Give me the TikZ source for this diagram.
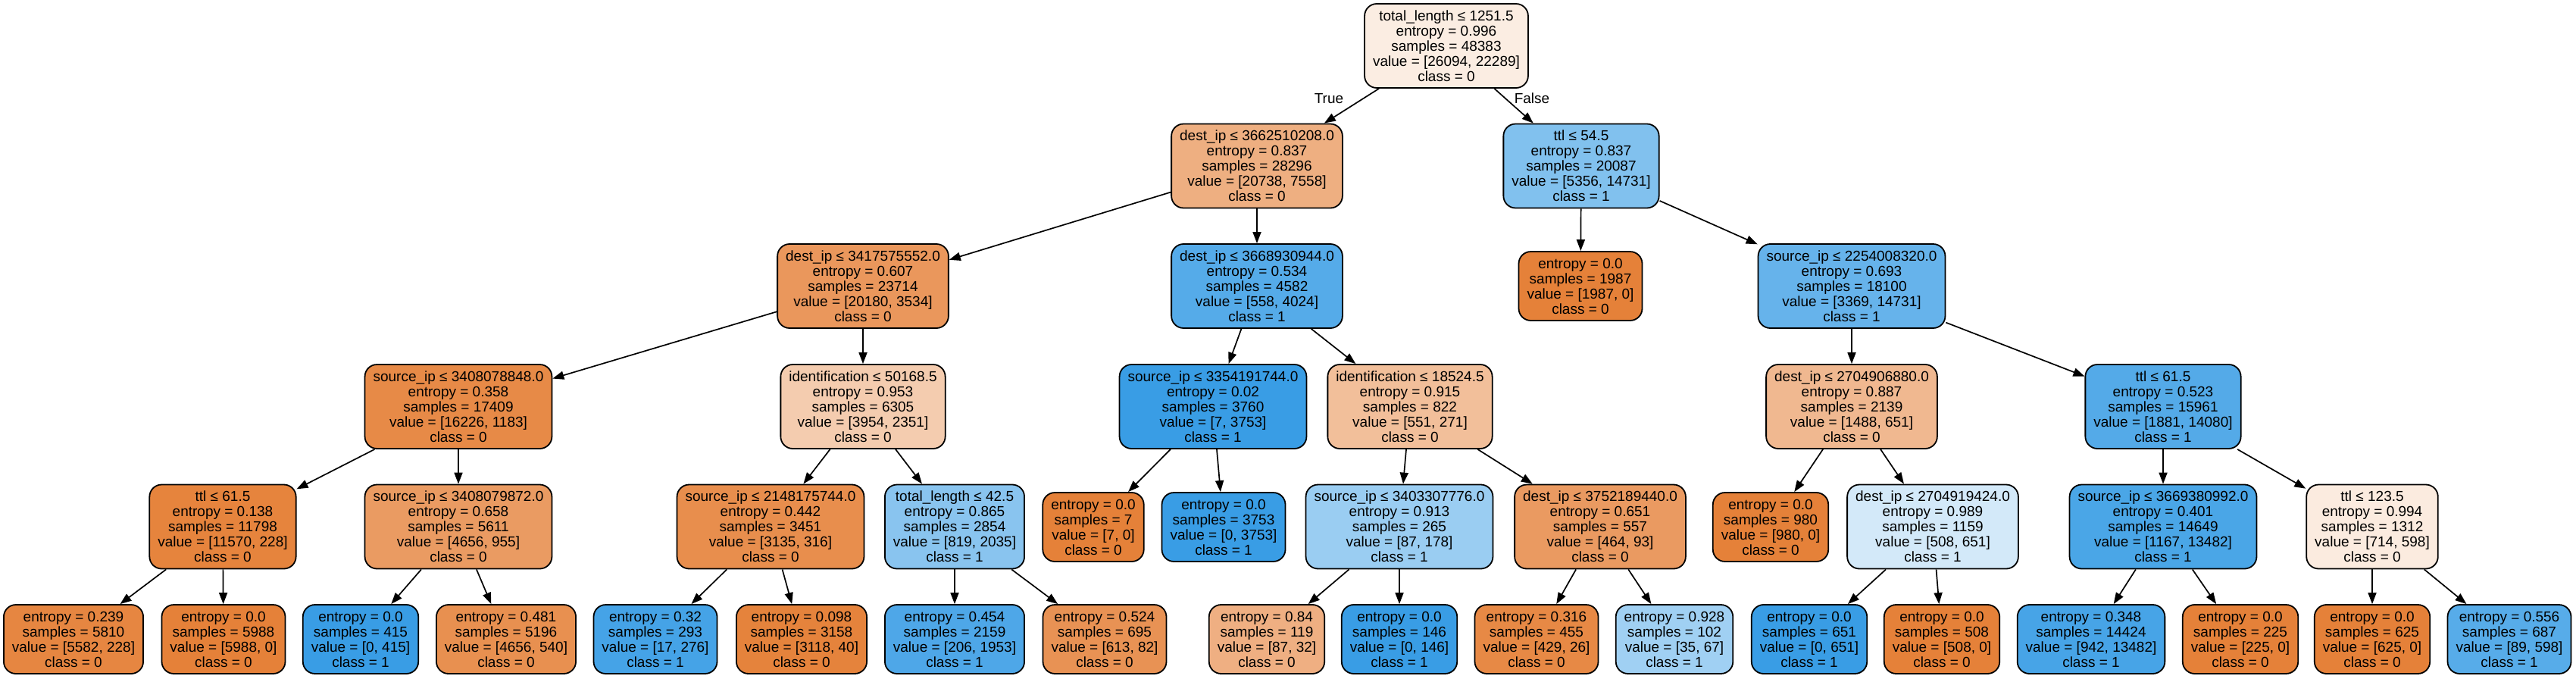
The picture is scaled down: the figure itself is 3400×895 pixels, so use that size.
\documentclass[tikz,border=0pt]{standalone}
\usepackage{fontspec}
\setmainfont{Liberation Sans}
\usetikzlibrary{arrows.meta}
\definecolor{czero}{HTML}{E58139}
\definecolor{cone}{HTML}{399DE5}
\tikzset{
  tn/.style={draw=black, line width=0.9pt, rounded corners=8pt, align=center,
    inner xsep=5.5pt, inner ysep=0pt, font=\fontsize{9.5}{10}\selectfont},
  five/.style={tn, minimum height=55.5pt},
  four/.style={tn, minimum height=45.5pt},
  edgelab/.style={font=\fontsize{9.5}{10}\selectfont, inner sep=0pt},
  link/.style={-{Triangle[length=7.5pt,width=5.5pt]}, line width=0.85pt}
}
\begin{document}
\begin{tikzpicture}[x=0.5pt,y=-0.5pt]
\useasboundingbox (0,0) rectangle (3400,895);
% row 0
\node[five, fill=czero!14.6!white] (n0) at (1909,60.5) {total\_length ≤ 1251.5\\entropy = 0.996\\samples = 48383\\value = [26094, 22289]\\class = 0};
% row 1
\node[five, fill=czero!63.6!white] (n1) at (1659,219) {dest\_ip ≤ 3662510208.0\\entropy = 0.837\\samples = 28296\\value = [20738, 7558]\\class = 0};
\node[five, fill=cone!63.6!white] (n2) at (2087,219) {ttl ≤ 54.5\\entropy = 0.837\\samples = 20087\\value = [5356, 14731]\\class = 1};
% row 2
\node[five, fill=czero!82.5!white] (n3) at (1139,377.5) {dest\_ip ≤ 3417575552.0\\entropy = 0.607\\samples = 23714\\value = [20180, 3534]\\class = 0};
\node[five, fill=cone!86.1!white] (n4) at (1659,377.5) {dest\_ip ≤ 3668930944.0\\entropy = 0.534\\samples = 4582\\value = [558, 4024]\\class = 1};
\node[four, fill=czero] (n5) at (2086,377.5) {entropy = 0.0\\samples = 1987\\value = [1987, 0]\\class = 0};
\node[five, fill=cone!77.1!white] (n6) at (2444,377.5) {source\_ip ≤ 2254008320.0\\entropy = 0.693\\samples = 18100\\value = [3369, 14731]\\class = 1};
% row 3
\node[five, fill=czero!92.7!white] (n7) at (605,536.5) {source\_ip ≤ 3408078848.0\\entropy = 0.358\\samples = 17409\\value = [16226, 1183]\\class = 0};
\node[five, fill=czero!40.5!white] (n8) at (1139,536.5) {identification ≤ 50168.5\\entropy = 0.953\\samples = 6305\\value = [3954, 2351]\\class = 0};
\node[five, fill=cone!99.8!white] (n9) at (1601,536.5) {source\_ip ≤ 3354191744.0\\entropy = 0.02\\samples = 3760\\value = [7, 3753]\\class = 1};
\node[five, fill=czero!50.8!white] (n10) at (1861,536.5) {identification ≤ 18524.5\\entropy = 0.915\\samples = 822\\value = [551, 271]\\class = 0};
\node[five, fill=czero!56.3!white] (n11) at (2444,536.5) {dest\_ip ≤ 2704906880.0\\entropy = 0.887\\samples = 2139\\value = [1488, 651]\\class = 0};
\node[five, fill=cone!86.6!white] (n12) at (2855,536.5) {ttl ≤ 61.5\\entropy = 0.523\\samples = 15961\\value = [1881, 14080]\\class = 1};
% row 4
\node[five, fill=czero!98!white] (n13) at (294,695) {ttl ≤ 61.5\\entropy = 0.138\\samples = 11798\\value = [11570, 228]\\class = 0};
\node[five, fill=czero!79.5!white] (n14) at (605,695) {source\_ip ≤ 3408079872.0\\entropy = 0.658\\samples = 5611\\value = [4656, 955]\\class = 0};
\node[five, fill=czero!89.9!white] (n15) at (1017,695) {source\_ip ≤ 2148175744.0\\entropy = 0.442\\samples = 3451\\value = [3135, 316]\\class = 0};
\node[five, fill=cone!59.8!white] (n16) at (1260,695) {total\_length ≤ 42.5\\entropy = 0.865\\samples = 2854\\value = [819, 2035]\\class = 1};
\node[four, fill=czero] (n17) at (1443,695.5) {entropy = 0.0\\samples = 7\\value = [7, 0]\\class = 0};
\node[four, fill=cone] (n18) at (1615,695.5) {entropy = 0.0\\samples = 3753\\value = [0, 3753]\\class = 1};
\node[five, fill=cone!51.1!white] (n19) at (1847,695) {source\_ip ≤ 3403307776.0\\entropy = 0.913\\samples = 265\\value = [87, 178]\\class = 1};
\node[five, fill=czero!80!white] (n20) at (2112,695) {dest\_ip ≤ 3752189440.0\\entropy = 0.651\\samples = 557\\value = [464, 93]\\class = 0};
\node[four, fill=czero] (n21) at (2337,695.5) {entropy = 0.0\\samples = 980\\value = [980, 0]\\class = 0};
\node[five, fill=cone!22!white] (n22) at (2551,695) {dest\_ip ≤ 2704919424.0\\entropy = 0.989\\samples = 1159\\value = [508, 651]\\class = 1};
\node[five, fill=cone!91.3!white] (n23) at (2855,695) {source\_ip ≤ 3669380992.0\\entropy = 0.401\\samples = 14649\\value = [1167, 13482]\\class = 1};
\node[five, fill=czero!16.2!white] (n24) at (3131,695) {ttl ≤ 123.5\\entropy = 0.994\\samples = 1312\\value = [714, 598]\\class = 0};
% row 5
\node[four, fill=czero!95.9!white] (n25) at (97,843.5) {entropy = 0.239\\samples = 5810\\value = [5582, 228]\\class = 0};
\node[four, fill=czero] (n26) at (295,843.5) {entropy = 0.0\\samples = 5988\\value = [5988, 0]\\class = 0};
\node[four, fill=cone] (n27) at (476,843.5) {entropy = 0.0\\samples = 415\\value = [0, 415]\\class = 1};
\node[four, fill=czero!88.4!white] (n28) at (668,843.5) {entropy = 0.481\\samples = 5196\\value = [4656, 540]\\class = 0};
\node[four, fill=cone!93.8!white] (n29) at (865,843.5) {entropy = 0.32\\samples = 293\\value = [17, 276]\\class = 1};
\node[four, fill=czero!98.7!white] (n30) at (1058,843.5) {entropy = 0.098\\samples = 3158\\value = [3118, 40]\\class = 0};
\node[four, fill=cone!89.5!white] (n31) at (1260,843.5) {entropy = 0.454\\samples = 2159\\value = [206, 1953]\\class = 1};
\node[four, fill=czero!86.6!white] (n32) at (1458,843.5) {entropy = 0.524\\samples = 695\\value = [613, 82]\\class = 0};
\node[four, fill=czero!63.2!white] (n33) at (1672,843.5) {entropy = 0.84\\samples = 119\\value = [87, 32]\\class = 0};
\node[four, fill=cone] (n34) at (1847,843.5) {entropy = 0.0\\samples = 146\\value = [0, 146]\\class = 1};
\node[four, fill=czero!93.9!white] (n35) at (2028,843.5) {entropy = 0.316\\samples = 455\\value = [429, 26]\\class = 0};
\node[four, fill=cone!47.8!white] (n36) at (2210,843.5) {entropy = 0.928\\samples = 102\\value = [35, 67]\\class = 1};
\node[four, fill=cone] (n37) at (2388,843.5) {entropy = 0.0\\samples = 651\\value = [0, 651]\\class = 1};
\node[four, fill=czero] (n38) at (2563,843.5) {entropy = 0.0\\samples = 508\\value = [508, 0]\\class = 0};
\node[four, fill=cone!93!white] (n39) at (2760,843.5) {entropy = 0.348\\samples = 14424\\value = [942, 13482]\\class = 1};
\node[four, fill=czero] (n40) at (2957,843.5) {entropy = 0.0\\samples = 225\\value = [225, 0]\\class = 0};
\node[four, fill=czero] (n41) at (3131,843.5) {entropy = 0.0\\samples = 625\\value = [625, 0]\\class = 0};
\node[four, fill=cone!85.1!white] (n42) at (3312,843.5) {entropy = 0.556\\samples = 687\\value = [89, 598]\\class = 1};
% edge labels
\node[edgelab] (ltrue) at (1754,130) {True};
\node[edgelab] (lfalse) at (2022,130) {False};
% edges
\draw[link] (n0) -- (n1);
\draw[link] (n0) -- (n2);
\draw[link] (n1) -- (n3);
\draw[link] (n1) -- (n4);
\draw[link] (n2) -- (n5);
\draw[link] (n2) -- (n6);
\draw[link] (n3) -- (n7);
\draw[link] (n3) -- (n8);
\draw[link] (n4) -- (n9);
\draw[link] (n4) -- (n10);
\draw[link] (n6) -- (n11);
\draw[link] (n6) -- (n12);
\draw[link] (n7) -- (n13);
\draw[link] (n7) -- (n14);
\draw[link] (n8) -- (n15);
\draw[link] (n8) -- (n16);
\draw[link] (n9) -- (n17);
\draw[link] (n9) -- (n18);
\draw[link] (n10) -- (n19);
\draw[link] (n10) -- (n20);
\draw[link] (n11) -- (n21);
\draw[link] (n11) -- (n22);
\draw[link] (n12) -- (n23);
\draw[link] (n12) -- (n24);
\draw[link] (n13) -- (n25);
\draw[link] (n13) -- (n26);
\draw[link] (n14) -- (n27);
\draw[link] (n14) -- (n28);
\draw[link] (n15) -- (n29);
\draw[link] (n15) -- (n30);
\draw[link] (n16) -- (n31);
\draw[link] (n16) -- (n32);
\draw[link] (n19) -- (n33);
\draw[link] (n19) -- (n34);
\draw[link] (n20) -- (n35);
\draw[link] (n20) -- (n36);
\draw[link] (n22) -- (n37);
\draw[link] (n22) -- (n38);
\draw[link] (n23) -- (n39);
\draw[link] (n23) -- (n40);
\draw[link] (n24) -- (n41);
\draw[link] (n24) -- (n42);
\end{tikzpicture}
\end{document}
